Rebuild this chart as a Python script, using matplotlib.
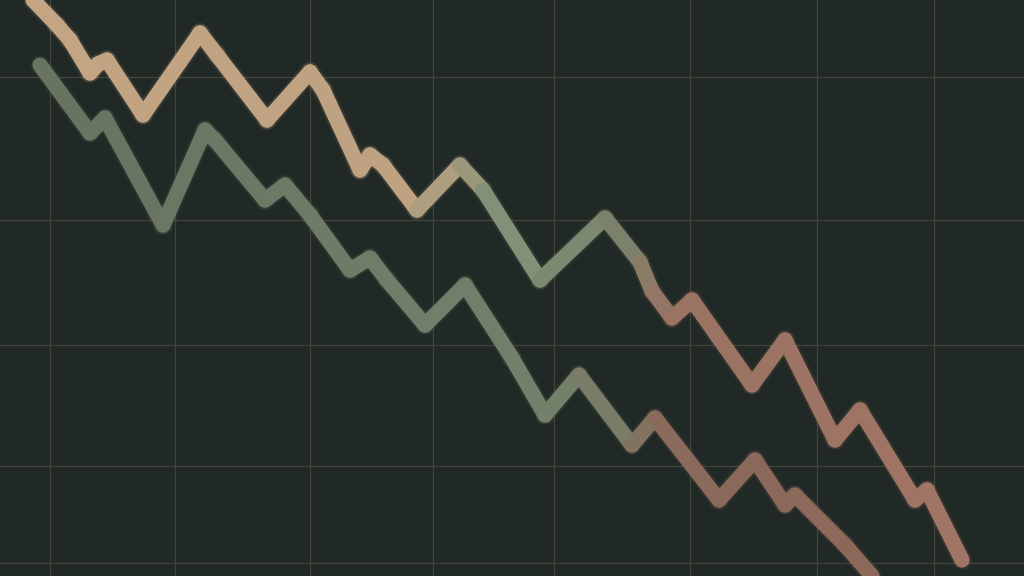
import numpy as np
import matplotlib.pyplot as plt
from matplotlib.collections import LineCollection
from matplotlib.colors import LinearSegmentedColormap

# positions (x to the right, y downwards)
upper_x = [33, 57, 70, 90, 98, 107, 143, 200, 217, 267, 310, 323, 360, 370, 383, 417, 460, 483,
           540, 605, 640, 652, 672, 692, 752, 785, 835, 860, 915, 927, 962]
upper_y = [0, 25, 40, 73, 64, 60, 115, 33, 55, 120, 72, 90, 170, 155, 165, 210, 165, 190,
           280, 218, 262, 291, 318, 300, 385, 340, 440, 410, 500, 490, 560]

lower_x = [40, 90, 105, 163, 205, 215, 265, 285, 310, 350, 370, 387, 425, 465, 512, 545, 579,
           632, 655, 719, 755, 785, 795, 845, 872]
lower_y = [65, 133, 118, 225, 130, 140, 200, 185, 215, 270, 258, 280, 325, 285, 358, 415, 375,
           445, 418, 500, 460, 505, 495, 545, 576]

grid_x = [50, 175, 310, 433, 554, 690, 817, 934]
grid_y = [77, 220, 345, 466, 563]

bg = '#212926'
upper_cmap = LinearSegmentedColormap.from_list(
    'up', [(0, '#c4a483'), (0.4, '#bea281'), (0.5, '#838f77'), (0.6, '#78836c'),
           (0.66, '#9a7363'), (1, '#a37565')])
lower_cmap = LinearSegmentedColormap.from_list(
    'low', [(0, '#66725f'), (0.45, '#727e69'), (0.58, '#76806a'), (0.66, '#8a6a5b'),
            (1, '#8e6758')])


def draw_line(ax, xs, ys, cmap, lw):
    pts = np.column_stack([xs, ys]).reshape(-1, 1, 2)
    segs = np.concatenate([pts[:-1], pts[1:]], axis=1)
    mid = (np.array(xs[:-1]) + np.array(xs[1:])) / 2 / 1024
    halo = LineCollection(segs, colors=cmap(mid), linewidths=lw + 3, alpha=0.12,
                          capstyle='round', joinstyle='round')
    ax.add_collection(halo)
    lc = LineCollection(segs, colors=cmap(mid), linewidths=lw,
                        capstyle='round', joinstyle='round')
    ax.add_collection(lc)


fig = plt.figure(figsize=(10.24, 5.76), dpi=100)
fig.patch.set_facecolor(bg)
ax = fig.add_axes([0, 0, 1, 1])
ax.set_facecolor(bg)
ax.set_xlim(0, 1024)
ax.set_ylim(576, 0)

for gx in grid_x:
    ax.axvline(gx, color='#44453a', lw=0.9, zorder=0)
for gy in grid_y:
    ax.axhline(gy, color='#44453a', lw=0.9, zorder=0)

draw_line(ax, lower_x, lower_y, lower_cmap, 11)
draw_line(ax, upper_x, upper_y, upper_cmap, 11)

ax.axis('off')
fig.savefig('out.png', dpi=100, facecolor=bg)
